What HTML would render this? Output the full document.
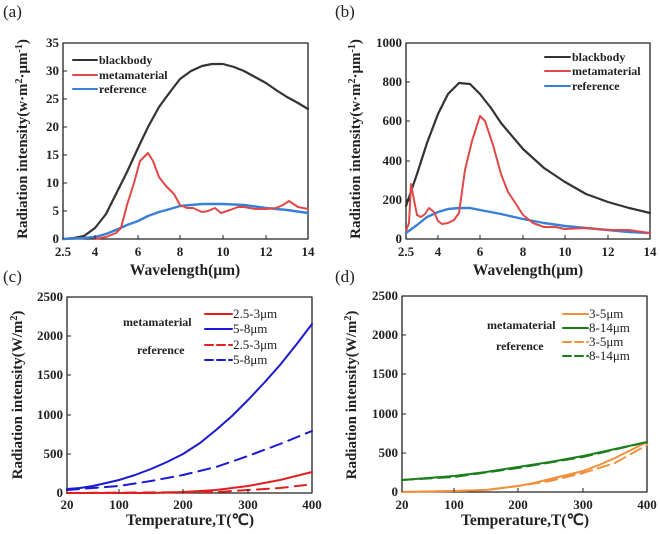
<!DOCTYPE html>
<html><head><meta charset="utf-8"><style>
body{margin:0;background:#fff}
svg{display:block;font-family:"Liberation Serif",serif}
.t{font-size:13px;font-weight:bold}
.ti{font-size:15.5px;font-weight:bold}
.ty{font-size:15px;font-weight:bold}
.lg{font-size:12px;font-weight:bold}
.lg2{font-size:13px}
.pl{font-size:17px}
</style></head><body>
<svg width="660" height="534" viewBox="0 0 660 534" xmlns="http://www.w3.org/2000/svg">
<g fill="none" stroke-linejoin="round" stroke-linecap="round">
<!-- (a) -->
<rect x="63" y="43" width="245" height="196" stroke="#222" stroke-width="1.3"/>
<polyline stroke="#333" stroke-width="2.2" points="63,239 74,238 84,236 95,228 106,214 116,194 127,172 138,148 148,127 159,107 170,92 180,79 191,71 202,66 212,64 223,64 234,67 244,71 255,77 266,83 276,90 287,97 298,103 308,109"/>
<polyline stroke="#3a7fd6" stroke-width="2.4" points="63,239 84,238 95,237 106,234 116,230 127,225 138,221 148,216 159,212 170,209 180,206 202,204 223,204 244,205 266,208 287,210 308,213"/>
<polyline stroke="#e04848" stroke-width="2" points="95,239 106,237 116,233 121,228 127,205 134,183 140,161 148,153 153,161 159,177 166,186 174,194 180,205 187,208 193,208 202,212 208,211 215,208 221,213 230,210 238,207 244,207 255,209 266,209 276,208 283,205 289,201 298,207 308,209"/>
<line x1="73" y1="60" x2="97" y2="60" stroke="#333" stroke-width="2"/>
<line x1="73" y1="75" x2="97" y2="75" stroke="#e04848" stroke-width="2"/>
<line x1="73" y1="89" x2="97" y2="89" stroke="#3a7fd6" stroke-width="2"/>
<!-- (b) -->
<rect x="406" y="43" width="244" height="196" stroke="#222" stroke-width="1.3"/>
<polyline stroke="#333" stroke-width="2.2" points="406,206 417,174 427,143 438,114 448,94 459,83 470,84 480,94 491,108 501,123 523,149 544,168 565,182 586,194 608,202 629,208 650,213"/>
<polyline stroke="#3a7fd6" stroke-width="2.4" points="406,233 417,225 427,217 438,212 448,209 459,208 470,208 480,210 501,214 523,219 544,223 565,226 586,228 608,230 629,232 650,233"/>
<polyline stroke="#e04848" stroke-width="2" points="406,231 409,223 411,184 414,200 417,215 421,217 425,214 429,208 434,212 438,221 442,224 448,223 454,220 459,213 465,170 472,141 480,116 485,121 493,145 501,174 508,192 516,204 523,215 533,223 544,227 555,227 565,229 586,228 608,230 629,230 650,233"/>
<line x1="545" y1="57" x2="570" y2="57" stroke="#333" stroke-width="2"/>
<line x1="545" y1="71" x2="570" y2="71" stroke="#e04848" stroke-width="2"/>
<line x1="545" y1="86" x2="570" y2="86" stroke="#3a7fd6" stroke-width="2"/>
<!-- (c) -->
<rect x="67" y="297" width="245" height="196" stroke="#222" stroke-width="1.3"/>
<polyline stroke="#1a1ad0" stroke-width="2" points="67,489 80,488 93,486 106,483 119,480 135,475 151,469 167,462 183,454 200,443 216,430 232,416 248,400 264,383 280,365 296,345 312,324"/>
<polyline stroke="#1a1ad0" stroke-width="2" stroke-dasharray="12,7" points="67,490 93,488 119,486 151,481 183,475 216,467 248,456 280,444 312,431"/>
<polyline stroke="#e02020" stroke-width="2" points="67,493 151,493 183,492 200,491 216,490 232,488 248,486 264,483 280,480 296,476 312,472"/>
<polyline stroke="#e02020" stroke-width="2" stroke-dasharray="12,7" points="67,493 216,492 248,490 280,488 306,485"/>
<line x1="205" y1="314" x2="232" y2="314" stroke="#e02020" stroke-width="2"/>
<line x1="205" y1="329" x2="232" y2="329" stroke="#1a1ad0" stroke-width="2"/>
<line x1="205" y1="345" x2="232" y2="345" stroke="#e02020" stroke-width="2" stroke-dasharray="8,4"/>
<line x1="205" y1="360" x2="232" y2="360" stroke="#1a1ad0" stroke-width="2" stroke-dasharray="8,4"/>
<!-- (d) -->
<rect x="402" y="296" width="245" height="196" stroke="#222" stroke-width="1.3"/>
<polyline stroke="#f0913a" stroke-width="2" stroke-dasharray="12,6" points="402,492 454,491 486,490 518,486 550,481 583,473 615,463 647,445"/>
<polyline stroke="#f0913a" stroke-width="2" points="402,492 454,491 486,490 518,486 534,483 550,479 567,475 583,471 599,465 615,458 631,450 647,442"/>
<polyline stroke="#1d7d1d" stroke-width="2" stroke-dasharray="12,6" points="402,480 454,477 518,468 583,457 647,442"/>
<polyline stroke="#1d7d1d" stroke-width="2" points="402,480 428,478 454,476 486,472 518,467 550,462 583,456 615,449 647,442"/>
<line x1="563" y1="314" x2="588" y2="314" stroke="#f0913a" stroke-width="2"/>
<line x1="563" y1="328" x2="588" y2="328" stroke="#1d7d1d" stroke-width="2"/>
<line x1="563" y1="342" x2="588" y2="342" stroke="#f0913a" stroke-width="2" stroke-dasharray="8,4"/>
<line x1="563" y1="356" x2="588" y2="356" stroke="#1d7d1d" stroke-width="2" stroke-dasharray="8,4"/>
</g>
<!-- ticks -->
<g stroke="#222" stroke-width="1">
<path d="M63,239v-4M95,239v-4M138,239v-4M180,239v-4M223,239v-4M266,239v-4M63,211h4M63,183h4M63,155h4M63,127h4M63,99h4M63,71h4"/>
<path d="M406,239v-4M438,239v-4M480,239v-4M523,239v-4M565,239v-4M608,239v-4M406,200h4M406,161h4M406,121h4M406,82h4"/>
<path d="M67,493v-4M119,493v-4M183,493v-4M248,493v-4M67,454h4M67,415h4M67,375h4M67,336h4"/>
<path d="M402,492v-4M454,492v-4M518,492v-4M583,492v-4M402,453h4M402,414h4M402,374h4M402,335h4"/>
</g>
<g class="t" fill="#222">
<g text-anchor="middle">
<text x="63" y="256">2.5</text><text x="95" y="256">4</text><text x="138" y="256">6</text><text x="180" y="256">8</text><text x="223" y="256">10</text><text x="266" y="256">12</text><text x="308" y="256">14</text>
<text x="406" y="256">2.5</text><text x="438" y="256">4</text><text x="480" y="256">6</text><text x="523" y="256">8</text><text x="565" y="256">10</text><text x="608" y="256">12</text><text x="650" y="256">14</text>
<text x="67" y="509">20</text><text x="119" y="509">100</text><text x="183" y="509">200</text><text x="248" y="509">300</text><text x="312" y="509">400</text>
<text x="402" y="509">20</text><text x="454" y="509">100</text><text x="518" y="509">200</text><text x="583" y="509">300</text><text x="647" y="509">400</text>
</g>
<g text-anchor="end">
<text x="59" y="243">0</text><text x="59" y="215">5</text><text x="59" y="187">10</text><text x="59" y="159">15</text><text x="59" y="131">20</text><text x="59" y="103">25</text><text x="59" y="75">30</text><text x="59" y="47">35</text>
<text x="402" y="243">0</text><text x="402" y="204">200</text><text x="402" y="165">400</text><text x="402" y="125">600</text><text x="402" y="86">800</text><text x="402" y="47">1000</text>
<text x="63" y="497">0</text><text x="63" y="458">500</text><text x="63" y="419">1000</text><text x="63" y="379">1500</text><text x="63" y="340">2000</text><text x="63" y="301">2500</text>
<text x="398" y="496">0</text><text x="398" y="457">500</text><text x="398" y="418">1000</text><text x="398" y="378">1500</text><text x="398" y="339">2000</text><text x="398" y="300">2500</text>
</g>
</g>
<g class="ti" fill="#222" text-anchor="middle">
<text x="185" y="275">Wavelength(μm)</text>
<text x="528" y="275">Wavelength(μm)</text>
<text x="190" y="525">Temperature,T(℃)</text>
<text x="525" y="525">Temperature,T(℃)</text>
</g>
<g class="ty" fill="#222" text-anchor="middle">
<text transform="translate(27,139) rotate(-90)">Radiation intensity(w·m<tspan font-size="10" dy="-5">2</tspan><tspan dy="5">·μm</tspan><tspan font-size="10" dy="-5">-1</tspan><tspan dy="5">)</tspan></text>
<text transform="translate(360,139) rotate(-90)">Radiation intensity(w·m<tspan font-size="10" dy="-5">2</tspan><tspan dy="5">·μm</tspan><tspan font-size="10" dy="-5">-1</tspan><tspan dy="5">)</tspan></text>
<text transform="translate(22,395) rotate(-90)">Radiation intensity(W/m<tspan font-size="10" dy="-5">2</tspan><tspan dy="5">)</tspan></text>
<text transform="translate(356,395) rotate(-90)">Radiation intensity(W/m<tspan font-size="10" dy="-5">2</tspan><tspan dy="5">)</tspan></text>
</g>
<g class="lg" fill="#222">
<text x="99" y="64">blackbody</text><text x="99" y="79">metamaterial</text><text x="99" y="93">reference</text>
<text x="572" y="61">blackbody</text><text x="572" y="75">metamaterial</text><text x="572" y="90">reference</text>
<text x="123" y="326">metamaterial</text><text x="137" y="354">reference</text>
<text x="487" y="329">metamaterial</text><text x="496" y="350">reference</text>
</g>
<g class="lg2" fill="#222">
<text x="233" y="318">2.5-3μm</text><text x="233" y="333">5-8μm</text><text x="233" y="349">2.5-3μm</text><text x="233" y="364">5-8μm</text>
<text x="589" y="318">3-5μm</text><text x="589" y="332">8-14μm</text><text x="589" y="346">3-5μm</text><text x="589" y="360">8-14μm</text>
</g>
<g class="pl" fill="#222">
<text x="3" y="17">(a)</text><text x="335" y="17">(b)</text><text x="3" y="282">(c)</text><text x="335" y="282">(d)</text>
</g>
</svg>
</body></html>
